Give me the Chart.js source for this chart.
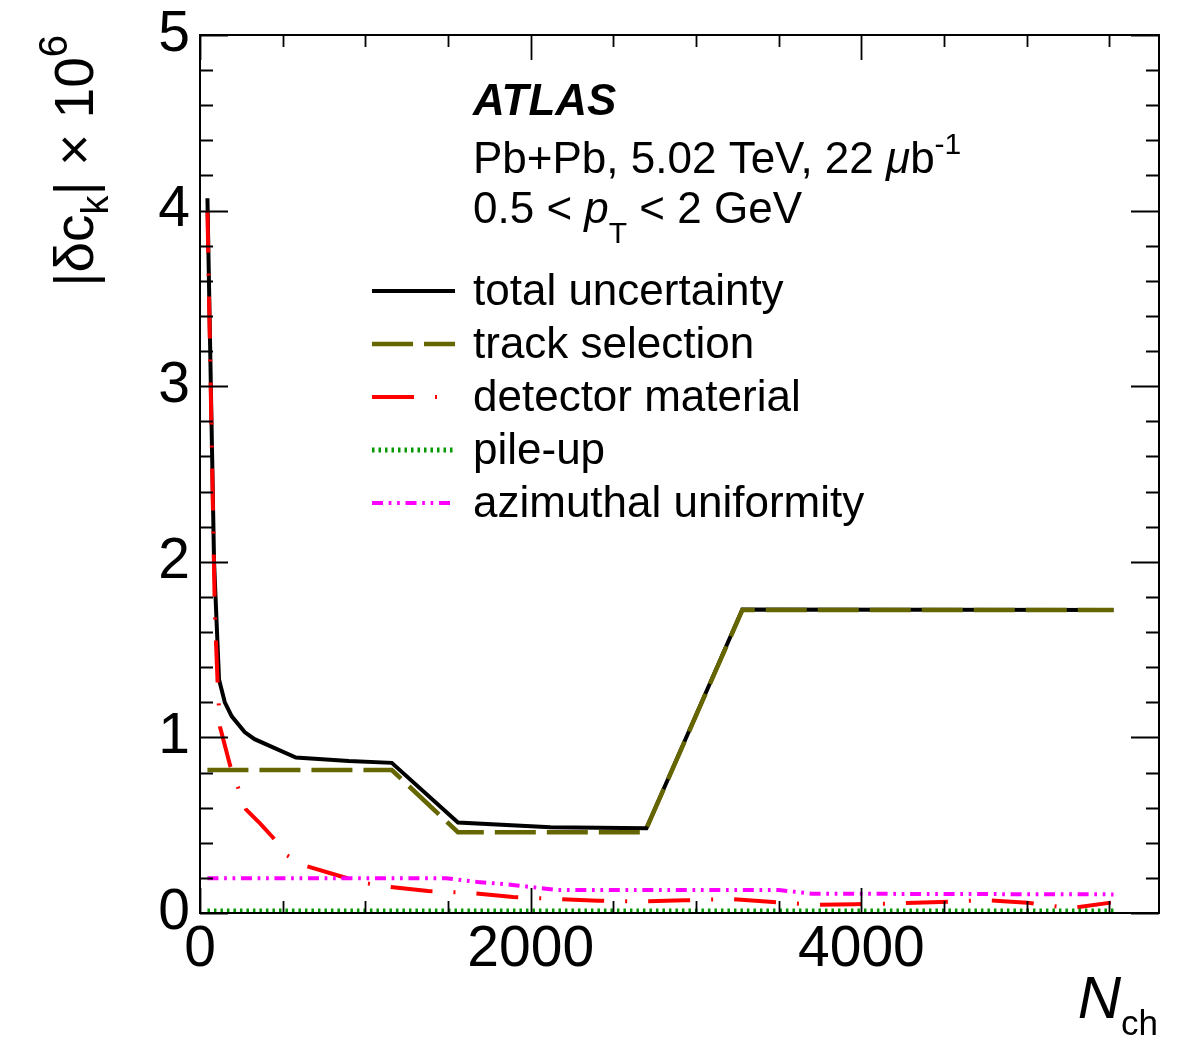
<!DOCTYPE html>
<html>
<head>
<meta charset="utf-8">
<script src="https://cdn.jsdelivr.net/npm/chart.js@4.4.0/dist/chart.umd.min.js"></script>
<style>
  html, body { margin: 0; padding: 0; background: #fff; }
  canvas { display: block; }
</style>
</head>
<body>
<canvas id="chart" width="1182" height="1059"></canvas>
<script>
// values (N_ch, |delta c_k| x 1e6)
const totalN = [45, 85, 115, 150, 192, 270, 330, 580, 900, 1160, 1560, 2120, 2700, 3280, 5525];
const totalVals = [4.07, 2.0, 1.33, 1.2, 1.12, 1.03, 0.99, 0.885, 0.865, 0.855, 0.515, 0.488, 0.483, 1.728, 1.725];

const trackN = [45, 1160, 1560, 2120, 2690, 3280, 5525];
const trackVals = [0.814, 0.814, 0.46, 0.46, 0.46, 1.725, 1.725];

const materialN = [45, 90, 107, 121, 182, 278, 363, 441, 523, 635, 865, 1000, 1137, 1379, 1645, 1893,
    2165, 2407, 2680, 2930, 3200, 3445, 3714, 3963, 4229, 4483, 4750, 5003, 5263, 5509];
const materialVals = [4.0, 1.7, 1.3, 1.06, 0.84, 0.59, 0.51, 0.43, 0.33, 0.27, 0.205, 0.17, 0.15, 0.125, 0.114, 0.091,
    0.08, 0.07, 0.066, 0.072, 0.08, 0.064, 0.047, 0.05, 0.055, 0.063, 0.074, 0.059, 0.027, 0.059];

const pileupN = [45, 5525];
const pileupVals = [0.011, 0.011];

const azimuthN = [45, 1490, 1680, 1890, 2160, 3500, 3700, 5525];
const azimuthVals = [0.198, 0.198, 0.177, 0.16, 0.131, 0.131, 0.11, 0.106];

const xTickLabels = [0, 2000, 4000];
const yTickLabels = [0, 1, 2, 3, 4, 5];
const xMinorStep = 500;
const yMinorStep = 0.2;

const FONT = '"Liberation Sans", Arial, Helvetica, sans-serif';

function points(xs, ys) {
    return xs.map((x, i) => ({x: x, y: ys[i]}));
}

const datasets = [
    {label: 'total uncertainty', data: points(totalN, totalVals), borderColor: '#000000', borderWidth: 4, borderDash: [], order: 5},
    {label: 'track selection', data: points(trackN, trackVals), borderColor: '#666600', borderWidth: 4.5, borderDash: [41, 11], order: 4},
    {label: 'detector material', data: points(materialN, materialVals), borderColor: '#ff0000', borderWidth: 4, borderDash: [42, 21, 2, 21], order: 3},
    {label: 'pile-up', data: points(pileupN, pileupVals), borderColor: '#009900', borderWidth: 5, borderDash: [2.5, 4], order: 2},
    {label: 'azimuthal uniformity', data: points(azimuthN, azimuthVals), borderColor: '#ff00ff', borderWidth: 4, borderDash: [11, 5.7, 2.7, 5.7, 2.7, 5.7], order: 1}
];
datasets.forEach(d => {
    d.pointRadius = 0;
    d.fill = false;
    d.tension = 0;
    d.borderCapStyle = 'butt';
});

function font(size, style, weight) {
    return (style || 'normal') + ' ' + (weight || 'normal') + ' ' + size + 'px ' + FONT;
}

function partsWidth(ctx, parts) {
    let w = 0;
    parts.forEach(p => {
        ctx.font = p.font;
        w += ctx.measureText(p.text).width;
    });
    return w;
}

function drawParts(ctx, x, y, parts) {
    let cx = x;
    parts.forEach(p => {
        ctx.font = p.font;
        ctx.fillText(p.text, cx, y + (p.dy || 0));
        cx += ctx.measureText(p.text).width;
    });
}

const atlasDecor = {
    id: 'atlasDecor',
    afterDraw(chart) {
        const ctx = chart.ctx;
        const a = chart.chartArea;
        const xs = chart.scales.x;
        const ys = chart.scales.y;
        ctx.save();

        // frame + ticks on all four sides
        ctx.strokeStyle = '#000';
        ctx.lineWidth = 2;
        ctx.strokeRect(a.left, a.top, a.right - a.left, a.bottom - a.top);
        ctx.lineWidth = 1.8;
        ctx.beginPath();
        for (let v = xs.min; v <= xs.max + 1e-6; v += xMinorStep) {
            const px = Math.round(xs.getPixelForValue(v)) + 0.5;
            const len = xTickLabels.includes(v) ? 25 : 12;
            ctx.moveTo(px, a.bottom); ctx.lineTo(px, a.bottom - len);
            ctx.moveTo(px, a.top); ctx.lineTo(px, a.top + len);
        }
        for (let i = 0; i <= Math.round((ys.max - ys.min) / yMinorStep); i++) {
            const v = ys.min + i * yMinorStep;
            const py = Math.round(ys.getPixelForValue(v)) + 0.5;
            const len = i % 5 === 0 ? 28 : 13;
            ctx.moveTo(a.left, py); ctx.lineTo(a.left + len, py);
            ctx.moveTo(a.right, py); ctx.lineTo(a.right - len, py);
        }
        ctx.stroke();

        ctx.fillStyle = '#000';
        ctx.textAlign = 'left';
        ctx.textBaseline = 'alphabetic';

        // ATLAS label block
        const tx = a.left + 273;
        ctx.font = font(44, 'italic', 'bold');
        ctx.fillText('ATLAS', tx, 115);
        drawParts(ctx, tx, 173, [
            {text: 'Pb+Pb, 5.02 TeV, 22 ', font: font(44)},
            {text: 'μ', font: font(44, 'italic')},
            {text: 'b', font: font(44)},
            {text: '-1', font: font(30), dy: -19}
        ]);
        drawParts(ctx, tx, 223, [
            {text: '0.5 < ', font: font(44)},
            {text: 'p', font: font(44, 'italic')},
            {text: 'T', font: font(30), dy: 20},
            {text: ' < 2 GeV', font: font(44)}
        ]);

        // legend
        const rowY = [291, 344, 397, 450, 503];
        chart.data.datasets.forEach((d, i) => {
            const y = rowY[i];
            ctx.save();
            ctx.strokeStyle = d.borderColor;
            ctx.lineWidth = d.borderWidth;
            ctx.setLineDash(d.borderDash);
            ctx.lineCap = 'butt';
            ctx.beginPath();
            ctx.moveTo(a.left + 172, y);
            ctx.lineTo(a.left + 255, y);
            ctx.stroke();
            ctx.restore();
            ctx.font = font(44);
            ctx.fillText(d.label, tx, y + 14);
        });

        // x axis title, right aligned at the frame edge
        const xTitle = [
            {text: 'N', font: font(60, 'italic')},
            {text: 'ch', font: font(35), dy: 17}
        ];
        drawParts(ctx, a.right - partsWidth(ctx, xTitle) - 1, 1018, xTitle);

        // y axis title, rotated, right aligned at the frame top
        const yTitle = [
            {text: '|δc', font: font(55)},
            {text: 'k', font: font(38), dy: 15},
            {text: '| × 10', font: font(55)},
            {text: '6', font: font(40), dy: -26}
        ];
        ctx.translate(93, a.top);
        ctx.rotate(-Math.PI / 2);
        drawParts(ctx, -partsWidth(ctx, yTitle), 0, yTitle);

        ctx.restore();
    }
};

new Chart(document.getElementById('chart'), {
    type: 'line',
    data: {datasets: datasets},
    options: {
        responsive: false,
        animation: false,
        events: [],
        layout: {padding: {left: 0, top: 35, right: 23, bottom: 0}},
        plugins: {legend: {display: false}, tooltip: {enabled: false}},
        scales: {
            x: {
                type: 'linear',
                min: 0,
                max: 5800,
                grid: {display: false},
                border: {display: false},
                afterBuildTicks: s => { s.ticks = xTickLabels.map(v => ({value: v})); },
                afterFit: s => { s.height = 146; },
                ticks: {
                    autoSkip: false,
                    maxRotation: 0,
                    padding: 1,
                    color: '#000',
                    callback: v => String(v),
                    font: {family: FONT, size: 57, lineHeight: 1}
                }
            },
            y: {
                type: 'linear',
                min: 0,
                max: 5,
                grid: {display: false},
                border: {display: false},
                afterBuildTicks: s => { s.ticks = yTickLabels.map(v => ({value: v})); },
                afterFit: s => { s.width = 200; },
                ticks: {
                    autoSkip: false,
                    padding: 2,
                    color: '#000',
                    callback: v => String(v),
                    font: {family: FONT, size: 57, lineHeight: 1}
                }
            }
        }
    },
    plugins: [atlasDecor]
});
</script>
</body>
</html>
